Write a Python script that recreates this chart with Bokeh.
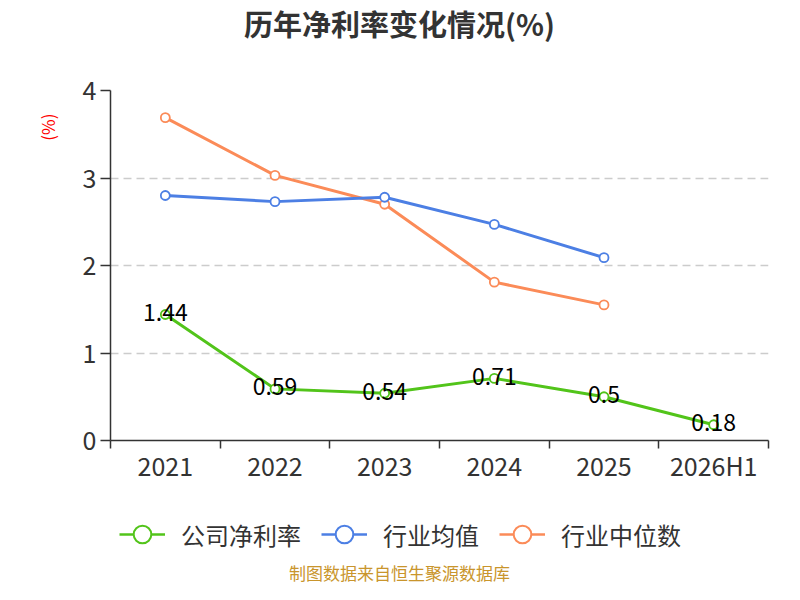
from bokeh.plotting import figure
from bokeh.layouts import column
from bokeh.models import (Range1d, FixedTicker, Legend, LegendItem, ColumnDataSource, Title, Label)
from bokeh.core.properties import value
from bokeh.embed import file_html
from bokeh.resources import INLINE

categories = ["2021", "2022", "2023", "2024", "2025", "2026H1"]
company = [1.44, 0.59, 0.54, 0.71, 0.5, 0.18]
industry_mean = [2.80, 2.73, 2.78, 2.47, 2.09]
industry_median = [3.69, 3.03, 2.70, 1.81, 1.55]
company_labels = ["1.44", "0.59", "0.54", "0.71", "0.5", "0.18"]
series_names = ["公司净利率", "行业均值", "行业中位数"]

FONT = "Noto Sans CJK SC"
GREEN = "#52c41a"
BLUE = "#4c7fe4"
ORANGE = "#fb8b58"

xs = [i + 0.5 for i in range(len(categories))]


def blank(h):
    # frames of stacked figures are aligned with the main chart's frame (110..768)
    f = figure(width=784, height=h, output_backend="svg", toolbar_location=None,
               x_range=Range1d(110, 768), y_range=Range1d(0, h),
               x_axis_type=None, y_axis_type=None, min_border=0)
    f.outline_line_color = None
    f.xgrid.grid_line_color = None
    f.ygrid.grid_line_color = None
    return f


# title panel
p0 = blank(44)
p0.add_layout(Label(x=399, y=22, text="历年净利率变化情况(%)", text_align="center",
                    text_baseline="middle", text_font=FONT, text_font_size="29px",
                    text_font_style="bold", text_color="#333333"))

# main chart
p = figure(width=784, height=446, output_backend="svg", toolbar_location=None,
           x_range=Range1d(0, 6), y_range=Range1d(0, 4),
           min_border_left=110, min_border_right=16, min_border_top=46, min_border_bottom=50)
p.outline_line_color = None
p.background_fill_color = "white"

p.xaxis.ticker = FixedTicker(ticks=xs, minor_ticks=list(range(7)))
p.xaxis.major_label_overrides = {x: c for x, c in zip(xs, categories)}
p.xaxis.major_tick_line_color = None
p.xaxis.major_tick_out = 0
p.xaxis.major_tick_in = 0
p.xaxis.minor_tick_out = 8
p.xaxis.minor_tick_in = 0
p.xaxis.minor_tick_line_color = "#333333"
p.xaxis.minor_tick_line_width = 1.5
p.xaxis.axis_line_color = "#333333"
p.xaxis.axis_line_width = 1.5
p.xaxis.major_label_text_font = FONT
p.xaxis.major_label_text_font_size = "25px"
p.xaxis.major_label_text_color = "#333333"
p.xaxis.major_label_standoff = -2

p.yaxis.ticker = FixedTicker(ticks=[0, 1, 2, 3, 4], minor_ticks=[])
p.yaxis.major_tick_out = 10
p.yaxis.major_tick_in = 0
p.yaxis.major_tick_line_color = "#333333"
p.yaxis.major_tick_line_width = 1.5
p.yaxis.axis_line_color = "#333333"
p.yaxis.axis_line_width = 1.5
p.yaxis.major_label_text_font = FONT
p.yaxis.major_label_text_font_size = "25px"
p.yaxis.major_label_text_color = "#333333"
p.yaxis.major_label_standoff = 4

p.xgrid.grid_line_color = None
p.ygrid.grid_line_color = "#cccccc"
p.ygrid.grid_line_dash = "8 5"
p.ygrid.grid_line_width = 1.5

src_c = ColumnDataSource(dict(x=xs, y=company, t=company_labels))
src_m = ColumnDataSource(dict(x=xs[:5], y=industry_mean))
src_d = ColumnDataSource(dict(x=xs[:5], y=industry_median))

for src, col in ((src_d, ORANGE), (src_m, BLUE), (src_c, GREEN)):
    p.line("x", "y", source=src, line_color=col, line_width=3)
    p.scatter("x", "y", source=src, size=9, marker="circle", fill_color="white",
              line_color=col, line_width=1.8)

p.text("x", "y", text="t", source=src_c, text_align="center", text_baseline="middle",
       text_font=value(FONT), text_font_size="23px", text_color="black", y_offset=-2)

unit = Title(text="(%)", align="right", offset=23, standoff=39, text_font=FONT,
             text_font_size="17px", text_font_style="normal", text_color="#ff0000")
p.add_layout(unit, "left")

# legend + source panel
p2 = blank(94)
items = []
for name, src, col in zip(series_names, (src_c, src_m, src_d), (GREEN, BLUE, ORANGE)):
    rl = p2.line("x", "y", source=src, line_color=col, line_width=2.5, visible=False)
    rc = p2.scatter("x", "y", source=src, size=20, marker="circle", fill_color="white",
                    line_color=col, line_width=2, visible=False)
    items.append(LegendItem(label=name, renderers=[rl, rc]))

legend = Legend(items=items, orientation="horizontal", location=(9, 28))
legend.background_fill_alpha = 0
legend.border_line_color = None
legend.inactive_fill_alpha = 0
legend.label_text_font = FONT
legend.label_text_font_size = "24px"
legend.label_text_color = "#333333"
legend.glyph_width = 46
legend.glyph_height = 44
legend.label_standoff = 16
legend.spacing = 20
legend.padding = 0
legend.margin = 0
p2.add_layout(legend, "center")

p2.add_layout(Label(x=399, y=12, text="制图数据来自恒生聚源数据库", text_align="center",
                    text_baseline="middle", text_font=FONT, text_font_size="17px",
                    text_color="#c9952c"))

layout = column(p0, p, p2, spacing=0)
open("out.html", "w").write(file_html(layout, INLINE))
